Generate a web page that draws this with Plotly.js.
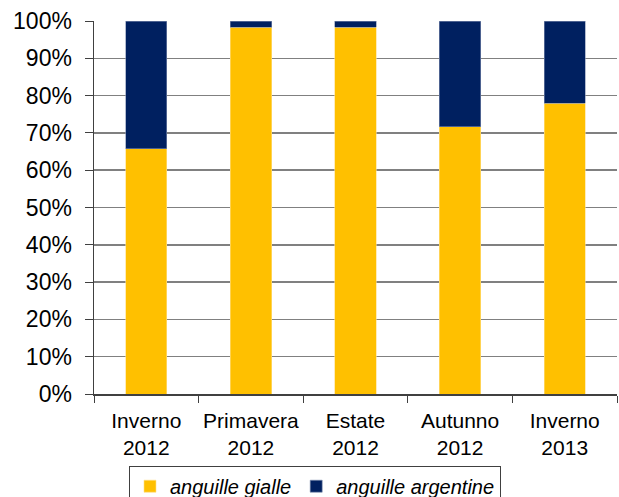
<!DOCTYPE html>
<html>
<head>
<meta charset="utf-8">
<script src="https://cdn.plot.ly/plotly-3.0.1.min.js"></script>
<style>html,body{margin:0;padding:0;background:#fff;}#chart{width:619px;height:497px;}</style>
</head>
<body>
<div id="chart"></div>
<script>
var categories = ["Inverno<br>2012", "Primavera<br>2012", "Estate<br>2012", "Autunno<br>2012", "Inverno<br>2013"];
var gialle = [65.7, 98.3, 98.3, 71.6, 78.0];
var argentine = [34.3, 1.7, 1.7, 28.4, 22.0];
var tickVals = [0, 10, 20, 30, 40, 50, 60, 70, 80, 90, 100];
var tickText = ["0%", "10%", "20%", "30%", "40%", "50%", "60%", "70%", "80%", "90%", "100%"];

var fam = "'Liberation Sans', Arial, sans-serif";

var traces = [
  {type: "bar", name: "anguille gialle", x: categories, y: gialle,
   marker: {color: "#FFC000", line: {color: "#FFE08A", width: 0.6}}},
  {type: "bar", name: "anguille argentine", x: categories, y: argentine,
   marker: {color: "#002060", line: {color: "#8090B0", width: 0.6}}}
];

var layout = {
  width: 619, height: 497,
  barmode: "stack",
  bargap: 0.605,
  margin: {l: 94, r: 2, t: 21, b: 103},
  paper_bgcolor: "#fff", plot_bgcolor: "#fff",
  font: {family: fam, size: 20, color: "#000"},
  showlegend: true,
  legend: {
    orientation: "h", xref: "container", yref: "container",
    x: 0.2084, xanchor: "left", y: 0.063, yanchor: "top",
    bordercolor: "#404040", borderwidth: 1,
    font: {family: fam, size: 20, color: "#000", style: "italic"},
    itemwidth: 30, traceorder: "normal"
  },
  xaxis: {
    type: "category", tickson: "boundaries", ticks: "outside", ticklen: 7,
    tickcolor: "#404040", showline: true, linecolor: "#404040", linewidth: 1.5,
    showgrid: false, tickangle: 0, ticklabelstandoff: 7,
    tickfont: {family: fam, size: 21, color: "#000"}, automargin: false
  },
  yaxis: {
    range: [0, 100], tickvals: tickVals, ticktext: tickText,
    ticks: "outside", ticklen: 8, tickcolor: "#404040",
    showline: true, linecolor: "#404040", linewidth: 1.5,
    showgrid: true, gridcolor: "#808080", gridwidth: 1.5,
    zeroline: false, tickfont: {family: fam, size: 23, color: "#000"},
    ticklabelstandoff: 8, automargin: false
  }
};

Plotly.newPlot("chart", traces, layout, {displayModeBar: false, staticPlot: true});
</script>
</body>
</html>
